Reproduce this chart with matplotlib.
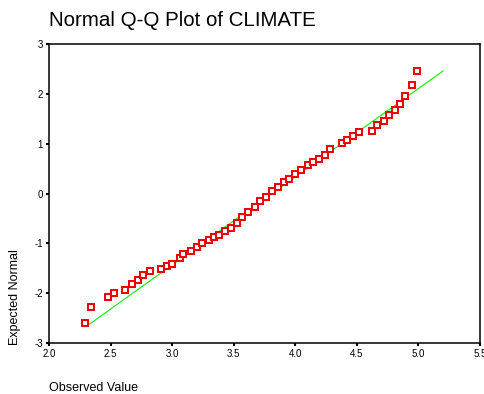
import numpy as np
import matplotlib
matplotlib.use("Agg")
import matplotlib.pyplot as plt


#Data
#-----------------------------------------------------------------------------------
observed = [2.29, 2.34, 2.48, 2.53, 2.62, 2.67, 2.72, 2.76, 2.82, 2.91, 2.96, 3.00,
            3.06, 3.09, 3.15, 3.20, 3.24, 3.30, 3.34, 3.38, 3.43, 3.48, 3.53, 3.57,
            3.62, 3.67, 3.71, 3.76, 3.81, 3.86, 3.91, 3.95, 4.00, 4.05, 4.10, 4.14,
            4.19, 4.24, 4.28, 4.38, 4.42, 4.47, 4.52, 4.62, 4.66, 4.72, 4.76, 4.81,
            4.85, 4.89, 4.95, 4.99]
expected = [-2.60, -2.27, -2.08, -1.99, -1.93, -1.82, -1.73, -1.64, -1.56, -1.52, -1.45, -1.41,
            -1.29, -1.22, -1.15, -1.07, -1.00, -0.93, -0.87, -0.83, -0.75, -0.69, -0.59, -0.47,
            -0.37, -0.27, -0.16, -0.07, 0.05, 0.13, 0.23, 0.30, 0.39, 0.47, 0.57, 0.63,
            0.69, 0.77, 0.90, 1.01, 1.08, 1.16, 1.24, 1.26, 1.37, 1.46, 1.58, 1.68,
            1.79, 1.95, 2.17, 2.46]
line_x = [2.33, 5.20]
line_y = [-2.62, 2.46]

x_ticks = [2.0, 2.5, 3.0, 3.5, 4.0, 4.5, 5.0, 5.5]
y_ticks = [-3, -2, -1, 0, 1, 2, 3]
#-----------------------------------------------------------------------------------


#Plot
#-----------------------------------------------------------------------------------
plt.rcParams['font.family'] = ['Liberation Sans', 'DejaVu Sans']

fig = plt.figure(figsize=(4.85, 3.94), dpi=100)
ax = fig.add_axes([49/485, 1 - 343/394, (480 - 49)/485, (343 - 44)/394])

ax.plot(line_x, line_y, color="#22ee22", lw=0.9, zorder=2)
ax.plot(observed, expected, linestyle="none", marker="s", markersize=4.3,
        markerfacecolor="white", markeredgecolor="#ee0000", markeredgewidth=1.4, zorder=3)

ax.set_xlim(2.0, 5.5)
ax.set_ylim(-3, 3)
ax.set_xticks(x_ticks)
ax.set_xticklabels([f"{v:.1f}" for v in x_ticks])
ax.set_yticks(y_ticks)
ax.set_yticklabels([str(v) for v in y_ticks])
ax.tick_params(direction="out", length=2.5, width=1.5, labelsize=7, pad=2)
for s in ax.spines.values():
    s.set_linewidth(1.1)

fig.text(49/485, 1 - 20/394, "Normal Q-Q Plot of CLIMATE", fontsize=14.8, ha="left", va="center")
fig.text(15/485, 1 - 345/394, "Expected Normal", fontsize=9, rotation=90, ha="center", va="bottom")
fig.text(49/485, 1 - 388/394, "Observed Value", fontsize=9, ha="left", va="center")

fig.savefig("out.png", dpi=100)
#-----------------------------------------------------------------------------------
